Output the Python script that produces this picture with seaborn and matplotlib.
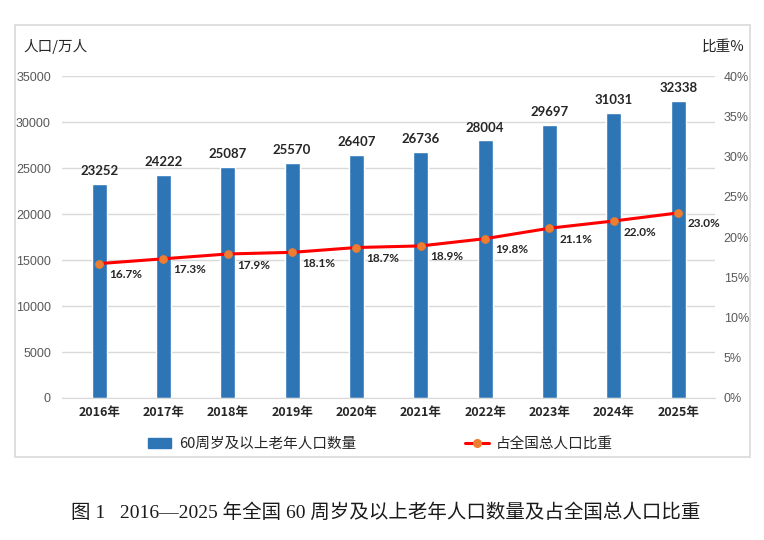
import numpy as np
import pandas as pd
import matplotlib
matplotlib.use('Agg')
import matplotlib.pyplot as plt
import seaborn as sns
from matplotlib.patches import Rectangle
from matplotlib.lines import Line2D

sns.set_style('white')
plt.rcParams['font.family'] = ['Noto Sans CJK SC', 'DejaVu Sans']

# data
years = ['2016年', '2017年', '2018年', '2019年', '2020年',
         '2021年', '2022年', '2023年', '2024年', '2025年']
elderly = [23252, 24222, 25087, 25570, 26407, 26736, 28004, 29697, 31031, 32338]
share = [16.7, 17.3, 17.9, 18.1, 18.7, 18.9, 19.8, 21.1, 22.0, 23.0]

df = pd.DataFrame({'year': years, 'elderly': elderly, 'share': share})

bar_color = '#2E75B6'
line_color = '#FF0000'
marker_color = '#ED7D31'
grid_color = '#D9D9D9'
tick_color = '#595959'
num_font = ['Lato', 'DejaVu Sans']

fig = plt.figure(figsize=(7.64, 5.4), dpi=100)

# outer frame
fig.patches.append(Rectangle((0.0196, 0.1537), 0.962, 0.80, transform=fig.transFigure,
                             fill=False, edgecolor='#D9D9D9', linewidth=1.2))

ax = fig.add_axes([0.0812, 0.263, 0.855, 0.596])
sns.barplot(data=df, x='year', y='elderly', color=bar_color, width=0.23,
            saturation=1, ax=ax)
ax.set_ylim(0, 35000)
ax.set_yticks(np.arange(0, 35001, 5000))
ax.yaxis.grid(True, color=grid_color, linewidth=1)
ax.set_axisbelow(True)
for s in ['top', 'right', 'left']:
    ax.spines[s].set_visible(False)
ax.spines['bottom'].set_color(grid_color)
ax.set_xlabel('')
ax.set_ylabel('')
ax.tick_params(axis='y', length=0, labelsize=9, labelcolor=tick_color, pad=8)
ax.tick_params(axis='x', length=0, labelsize=9, pad=6)
for lab in ax.get_yticklabels():
    lab.set_family(['Liberation Sans', 'DejaVu Sans'])
for lab in ax.get_xticklabels():
    lab.set_fontweight('bold')
    lab.set_color('#262626')

for i, v in enumerate(elderly):
    ax.annotate(str(v), (i, v), xytext=(0, 5), textcoords='offset points',
                ha='center', va='bottom', fontsize=9.5, fontweight='bold',
                color='#262626', family=num_font)

ax2 = ax.twinx()
sns.lineplot(x=np.arange(len(share)), y=share, ax=ax2, color=line_color,
             linewidth=2.2, marker='o', markersize=5.5,
             markerfacecolor=marker_color, markeredgecolor=marker_color)
ax2.set_ylim(0, 40)
ax2.set_yticks(np.arange(0, 41, 5))
ax2.set_yticklabels([f'{t}%' for t in range(0, 41, 5)])
for s in ['top', 'right', 'left', 'bottom']:
    ax2.spines[s].set_visible(False)
ax2.tick_params(axis='y', length=0, labelsize=9, labelcolor=tick_color, pad=6)
for lab in ax2.get_yticklabels():
    lab.set_family(['Liberation Sans', 'DejaVu Sans'])
ax2.set_ylabel('')

for i, v in enumerate(share):
    ax2.annotate(f'{v:.1f}%', (i, v), xytext=(7, -4), textcoords='offset points',
                 ha='left', va='top', fontsize=8.5, fontweight='bold',
                 color='#262626', family=num_font)

fig.text(0.03, 0.913, '人口/万人', fontsize=10.5, color='#262626', va='center')
fig.text(0.975, 0.913, '比重%', fontsize=10.5, color='#262626', va='center', ha='right')

handles = [Rectangle((0, 0), 1, 1, color=bar_color),
           Line2D([0], [0], color=line_color, linewidth=2.2, marker='o',
                  markersize=5.5, markerfacecolor=marker_color,
                  markeredgecolor=marker_color)]
fig.legend(handles, ['60周岁及以上老年人口数量', '占全国总人口比重'],
           loc='center', bbox_to_anchor=(0.498, 0.178), ncol=2, frameon=False,
           fontsize=10.5, columnspacing=7.5, handlelength=1.6, handletextpad=0.5)

fig.text(0.505, 0.05, '图 1   2016—2025 年全国 60 周岁及以上老年人口数量及占全国总人口比重',
         fontsize=14, ha='center', va='center', color='#1a1a1a',
         family=['Liberation Serif', 'Noto Sans CJK SC'], fontweight='light')

fig.savefig('out.png', dpi=100)
